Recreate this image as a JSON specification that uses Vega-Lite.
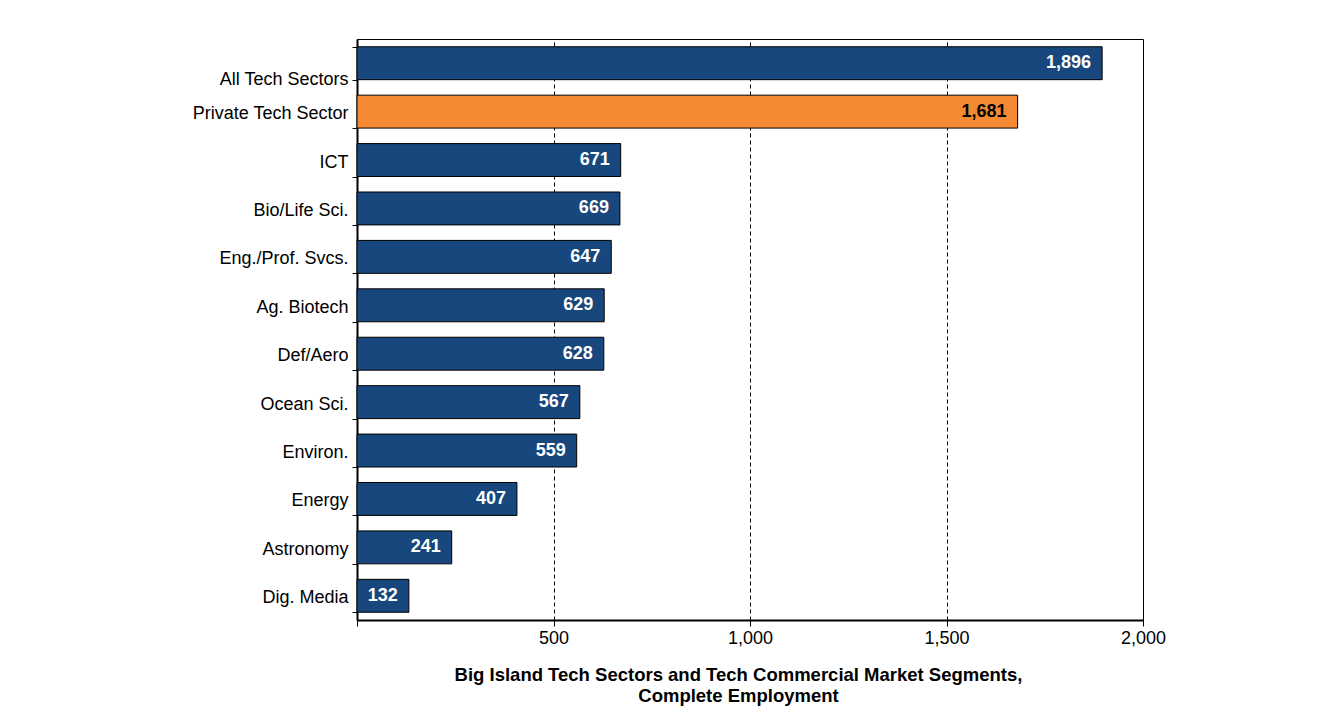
{
  "$schema": "https://vega.github.io/schema/vega-lite/v6.json",
  "autosize": {"type": "none"},
  "width": 786,
  "height": 581,
  "padding": {"left": 357, "top": 39, "right": 201, "bottom": 103},
  "background": "white",
  "config": {
    "font": "Liberation Sans",
    "view": {"stroke": "black", "strokeWidth": 1}
  },
  "data": {
    "values": [
      {"sector": "All Tech Sectors", "employment": 1896, "group": "all"},
      {"sector": "Private Tech Sector", "employment": 1681, "group": "private"},
      {"sector": "ICT", "employment": 671, "group": "segment"},
      {"sector": "Bio/Life Sci.", "employment": 669, "group": "segment"},
      {"sector": "Eng./Prof. Svcs.", "employment": 647, "group": "segment"},
      {"sector": "Ag. Biotech", "employment": 629, "group": "segment"},
      {"sector": "Def/Aero", "employment": 628, "group": "segment"},
      {"sector": "Ocean Sci.", "employment": 567, "group": "segment"},
      {"sector": "Environ.", "employment": 559, "group": "segment"},
      {"sector": "Energy", "employment": 407, "group": "segment"},
      {"sector": "Astronomy", "employment": 241, "group": "segment"},
      {"sector": "Dig. Media", "employment": 132, "group": "segment"}
    ]
  },
  "encoding": {
    "y": {
      "field": "sector",
      "type": "nominal",
      "sort": null,
      "scale": {"paddingInner": 0.32, "paddingOuter": 0.16},
      "axis": {
        "title": null,
        "tickBand": "extent",
        "tickSize": 5,
        "tickColor": "black",
        "tickWidth": 1,
        "domainColor": "black",
        "domainWidth": 2,
        "labelFont": "Liberation Sans",
        "labelFontSize": 18,
        "labelColor": "black",
        "labelPadding": 4,
        "labelOffset": {"condition": {"test": "datum.value == 'All Tech Sectors'", "value": 16}, "value": 2},
        "grid": false
      }
    },
    "x": {
      "field": "employment",
      "type": "quantitative",
      "scale": {"domain": [0, 2000], "nice": false},
      "axis": {
        "values": [0, 500, 1000, 1500, 2000],
        "labelExpr": "datum.value == 0 ? '' : format(datum.value, ',')",
        "labelFlush": false,
        "title": ["Big Island Tech Sectors and Tech Commercial Market Segments,", "Complete Employment"],
        "titleFont": "Liberation Sans",
        "titleFontSize": 18.5,
        "titleFontWeight": "bold",
        "titleColor": "black",
        "titleLineHeight": 21,
        "titlePadding": 18,
        "titleX": 381,
        "titleAlign": "center",
        "labelFont": "Liberation Sans",
        "labelFontSize": 18,
        "labelColor": "black",
        "labelPadding": 3,
        "tickSize": 6,
        "tickColor": "black",
        "domainColor": "black",
        "domainWidth": 2,
        "grid": true,
        "gridColor": "black",
        "gridDash": [4, 3],
        "gridWidth": 1,
        "gridOpacity": {"condition": {"test": "datum.value == 0", "value": 0}, "value": 1}
      }
    }
  },
  "layer": [
    {
      "mark": {"type": "bar", "stroke": "black", "strokeWidth": 1},
      "encoding": {
        "color": {
          "field": "group",
          "type": "nominal",
          "scale": {"domain": ["all", "private", "segment"], "range": ["#17477C", "#F58A35", "#17477C"]},
          "legend": null
        }
      }
    },
    {
      "mark": {"type": "text", "align": "right", "baseline": "middle", "dx": -11, "fontSize": 18, "fontWeight": "bold", "font": "Liberation Sans"},
      "encoding": {
        "text": {"field": "employment", "type": "quantitative", "format": ","},
        "color": {
          "condition": {"test": "datum.group == 'private'", "value": "black"},
          "value": "white"
        }
      }
    }
  ]
}
